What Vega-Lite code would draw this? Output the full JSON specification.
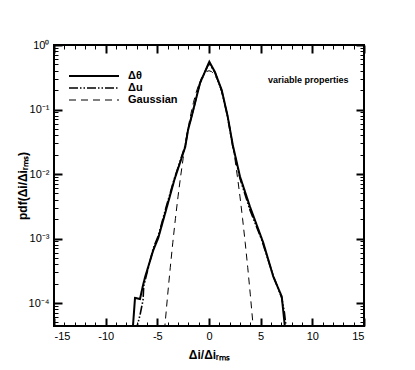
{
  "$schema": "https://vega.github.io/schema/vega-lite/v6.json",
  "width": 310,
  "height": 281,
  "autosize": {"type": "none"},
  "padding": {"left": 54, "top": 45, "right": 51, "bottom": 44},
  "background": "white",
  "config": {
    "view": {"stroke": "black", "strokeWidth": 2},
    "font": "Liberation Sans",
    "axis": {"grid": false, "domain": false, "tickColor": "black", "labelColor": "black", "titleColor": "black", "labelFont": "Liberation Sans", "titleFont": "Liberation Sans", "labelFontSize": 11}
  },
  "datasets": {
    "curves": [
      {"x": -7.40, "y": 3.55e-5, "series": "Δθ"},
      {"x": -7.16, "y": 1.20e-4, "series": "Δθ"},
      {"x": -6.68, "y": 1.15e-4, "series": "Δθ"},
      {"x": -6.42, "y": 1.78e-4, "series": "Δθ"},
      {"x": -6.19, "y": 2.51e-4, "series": "Δθ"},
      {"x": -5.39, "y": 6.61e-4, "series": "Δθ"},
      {"x": -4.91, "y": 1.02e-3, "series": "Δθ"},
      {"x": -4.16, "y": 2.75e-3, "series": "Δθ"},
      {"x": -3.35, "y": 8.13e-3, "series": "Δθ"},
      {"x": -2.30, "y": 0.0263, "series": "Δθ"},
      {"x": -2.03, "y": 0.0479, "series": "Δθ"},
      {"x": -1.645, "y": 0.0822, "series": "Δθ"},
      {"x": -0.87, "y": 0.257, "series": "Δθ"},
      {"x": 0.03, "y": 0.55, "series": "Δθ"},
      {"x": 0.58, "y": 0.38, "series": "Δθ"},
      {"x": 1.23, "y": 0.20, "series": "Δθ"},
      {"x": 1.80, "y": 0.0794, "series": "Δθ"},
      {"x": 2.30, "y": 0.0282, "series": "Δθ"},
      {"x": 3.00, "y": 9.12e-3, "series": "Δθ"},
      {"x": 3.97, "y": 3.09e-3, "series": "Δθ"},
      {"x": 5.10, "y": 1.0e-3, "series": "Δθ"},
      {"x": 5.26, "y": 8.51e-4, "series": "Δθ"},
      {"x": 6.22, "y": 2.57e-4, "series": "Δθ"},
      {"x": 7.04, "y": 1.26e-4, "series": "Δθ"},
      {"x": 7.40, "y": 3.55e-5, "series": "Δθ"},

      {"x": -7.10, "y": 3.55e-5, "series": "Δu"},
      {"x": -6.68, "y": 6.46e-5, "series": "Δu"},
      {"x": -6.38, "y": 1.12e-4, "series": "Δu"},
      {"x": -6.32, "y": 1.82e-4, "series": "Δu"},
      {"x": -5.90, "y": 3.39e-4, "series": "Δu"},
      {"x": -5.39, "y": 7.08e-4, "series": "Δu"},
      {"x": -4.91, "y": 1.10e-3, "series": "Δu"},
      {"x": -4.16, "y": 3.02e-3, "series": "Δu"},
      {"x": -3.35, "y": 8.51e-3, "series": "Δu"},
      {"x": -2.30, "y": 0.0275, "series": "Δu"},
      {"x": -2.03, "y": 0.049, "series": "Δu"},
      {"x": -1.645, "y": 0.0832, "series": "Δu"},
      {"x": -0.87, "y": 0.257, "series": "Δu"},
      {"x": 0.0, "y": 0.525, "series": "Δu"},
      {"x": 0.58, "y": 0.372, "series": "Δu"},
      {"x": 1.23, "y": 0.195, "series": "Δu"},
      {"x": 1.80, "y": 0.0776, "series": "Δu"},
      {"x": 2.30, "y": 0.0269, "series": "Δu"},
      {"x": 3.00, "y": 8.51e-3, "series": "Δu"},
      {"x": 3.97, "y": 2.75e-3, "series": "Δu"},
      {"x": 5.10, "y": 9.55e-4, "series": "Δu"},
      {"x": 6.22, "y": 2.63e-4, "series": "Δu"},
      {"x": 7.04, "y": 1.20e-4, "series": "Δu"},
      {"x": 7.30, "y": 7.08e-5, "series": "Δu"},
      {"x": 7.55, "y": 3.16e-5, "series": "Δu"},

      {"x": -4.5, "y": 1.598e-5, "series": "Gaussian"},
      {"x": -4.25, "y": 4.777e-5, "series": "Gaussian"},
      {"x": -4.0, "y": 1.3383e-4, "series": "Gaussian"},
      {"x": -3.75, "y": 3.526e-4, "series": "Gaussian"},
      {"x": -3.5, "y": 8.727e-4, "series": "Gaussian"},
      {"x": -3.25, "y": 0.002029, "series": "Gaussian"},
      {"x": -3.0, "y": 0.004432, "series": "Gaussian"},
      {"x": -2.75, "y": 0.009094, "series": "Gaussian"},
      {"x": -2.5, "y": 0.01753, "series": "Gaussian"},
      {"x": -2.25, "y": 0.03174, "series": "Gaussian"},
      {"x": -2.0, "y": 0.05399, "series": "Gaussian"},
      {"x": -1.75, "y": 0.08628, "series": "Gaussian"},
      {"x": -1.5, "y": 0.12952, "series": "Gaussian"},
      {"x": -1.25, "y": 0.18265, "series": "Gaussian"},
      {"x": -1.0, "y": 0.24197, "series": "Gaussian"},
      {"x": -0.75, "y": 0.30114, "series": "Gaussian"},
      {"x": -0.5, "y": 0.35207, "series": "Gaussian"},
      {"x": -0.25, "y": 0.38667, "series": "Gaussian"},
      {"x": 0.0, "y": 0.39894, "series": "Gaussian"},
      {"x": 0.25, "y": 0.38667, "series": "Gaussian"},
      {"x": 0.5, "y": 0.35207, "series": "Gaussian"},
      {"x": 0.75, "y": 0.30114, "series": "Gaussian"},
      {"x": 1.0, "y": 0.24197, "series": "Gaussian"},
      {"x": 1.25, "y": 0.18265, "series": "Gaussian"},
      {"x": 1.5, "y": 0.12952, "series": "Gaussian"},
      {"x": 1.75, "y": 0.08628, "series": "Gaussian"},
      {"x": 2.0, "y": 0.05399, "series": "Gaussian"},
      {"x": 2.25, "y": 0.03174, "series": "Gaussian"},
      {"x": 2.5, "y": 0.01753, "series": "Gaussian"},
      {"x": 2.75, "y": 0.009094, "series": "Gaussian"},
      {"x": 3.0, "y": 0.004432, "series": "Gaussian"},
      {"x": 3.25, "y": 0.002029, "series": "Gaussian"},
      {"x": 3.5, "y": 8.727e-4, "series": "Gaussian"},
      {"x": 3.75, "y": 3.526e-4, "series": "Gaussian"},
      {"x": 4.0, "y": 1.3383e-4, "series": "Gaussian"},
      {"x": 4.25, "y": 4.777e-5, "series": "Gaussian"},
      {"x": 4.5, "y": 1.598e-5, "series": "Gaussian"}
    ],
    "note": [
      {"x": 9.6, "y": 0.29, "label": "variable properties"}
    ]
  },
  "layer": [
    {
      "data": {"name": "curves"},
      "mark": {"type": "line", "clip": true, "color": "black"},
      "encoding": {
        "x": {
          "field": "x", "type": "quantitative",
          "scale": {"domain": [-15, 15], "nice": false, "zero": false},
          "axis": {
            "orient": "bottom",
            "values": [-15,-14,-13,-12,-11,-10,-9,-8,-7,-6,-5,-4,-3,-2,-1,0,1,2,3,4,5,6,7,8,9,10,11,12,13,14,15],
            "labelExpr": "datum.value % 5 == 0 ? toString(datum.value) : ''",
            "tickSize": {"condition": {"test": "datum.value % 5 == 0", "value": -8}, "value": -4},
            "tickWidth": {"condition": {"test": "datum.value % 5 == 0", "value": 2}, "value": 1},
            "labelPadding": 12,
            "labelFontSize": 11,
            "title": "Δi/Δiᵣₘₛ",
            "titleFontSize": 12,
            "titleFontWeight": "bold",
            "titlePadding": 8
          }
        },
        "y": {
          "field": "y", "type": "quantitative",
          "scale": {"type": "log", "domain": [4.4e-5, 1], "nice": false},
          "axis": {
            "orient": "left",
            "values": [5e-5,6e-5,7e-5,8e-5,9e-5,1e-4,2e-4,3e-4,4e-4,5e-4,6e-4,7e-4,8e-4,9e-4,1e-3,2e-3,3e-3,4e-3,5e-3,6e-3,7e-3,8e-3,9e-3,1e-2,2e-2,3e-2,4e-2,5e-2,6e-2,7e-2,8e-2,9e-2,0.1,0.2,0.3,0.4,0.5,0.6,0.7,0.8,0.9,1],
            "labelExpr": "abs(log(datum.value)/LN10 - round(log(datum.value)/LN10)) < 1e-6 ? '10' + (round(log(datum.value)/LN10) == 0 ? '⁰' : '⁻' + ['⁰','¹','²','³','⁴','⁵'][-round(log(datum.value)/LN10)]) : ''",
            "tickSize": {"condition": {"test": "abs(log(datum.value)/LN10 - round(log(datum.value)/LN10)) < 1e-6", "value": -8}, "value": -4},
            "tickWidth": {"condition": {"test": "abs(log(datum.value)/LN10 - round(log(datum.value)/LN10)) < 1e-6", "value": 2}, "value": 1},
            "labelPadding": 13,
            "labelFontSize": 11,
            "title": "pdf(Δi/Δiᵣₘₛ)",
            "titleFontSize": 12,
            "titleFontWeight": "bold",
            "titlePadding": -1
          }
        },
        "strokeDash": {
          "field": "series", "type": "nominal",
          "scale": {"domain": ["Δθ", "Δu", "Gaussian"], "range": [[1, 0], [9, 2, 1.5, 2, 1.5, 2], [7, 5]]},
          "legend": {
            "orient": "none", "legendX": 14, "legendY": 25,
            "title": null, "padding": 0,
            "symbolType": "stroke", "symbolSize": 2500, "symbolStrokeWidth": 1.8, "symbolStrokeColor": "black",
            "clipHeight": 12,
            "labelFont": "Liberation Sans", "labelFontSize": 11, "labelFontWeight": "bold", "labelColor": "black",
            "rowPadding": 0, "labelOffset": 8
          }
        },
        "strokeWidth": {
          "field": "series", "type": "nominal",
          "scale": {"type": "ordinal", "domain": ["Δθ", "Δu", "Gaussian"], "range": [2, 1.6, 1]},
          "legend": null
        }
      }
    },
    {
      "data": {"name": "note"},
      "mark": {"type": "text", "font": "Liberation Sans", "fontSize": 9, "fontWeight": "bold", "color": "black"},
      "encoding": {
        "x": {
          "field": "x", "type": "quantitative",
          "axis": {
            "orient": "top",
            "values": [-15,-14,-13,-12,-11,-10,-9,-8,-7,-6,-5,-4,-3,-2,-1,0,1,2,3,4,5,6,7,8,9,10,11,12,13,14,15],
            "labels": false, "title": null,
            "tickSize": {"condition": {"test": "datum.value % 5 == 0", "value": -8}, "value": -4},
            "tickWidth": {"condition": {"test": "datum.value % 5 == 0", "value": 2}, "value": 1}
          }
        },
        "y": {
          "field": "y", "type": "quantitative",
          "axis": {
            "orient": "right",
            "values": [5e-5,6e-5,7e-5,8e-5,9e-5,1e-4,2e-4,3e-4,4e-4,5e-4,6e-4,7e-4,8e-4,9e-4,1e-3,2e-3,3e-3,4e-3,5e-3,6e-3,7e-3,8e-3,9e-3,1e-2,2e-2,3e-2,4e-2,5e-2,6e-2,7e-2,8e-2,9e-2,0.1,0.2,0.3,0.4,0.5,0.6,0.7,0.8,0.9,1],
            "labels": false, "title": null,
            "tickSize": {"condition": {"test": "abs(log(datum.value)/LN10 - round(log(datum.value)/LN10)) < 1e-6", "value": -8}, "value": -4},
            "tickWidth": {"condition": {"test": "abs(log(datum.value)/LN10 - round(log(datum.value)/LN10)) < 1e-6", "value": 2}, "value": 1}
          }
        },
        "text": {"field": "label", "type": "nominal"}
      }
    }
  ],
  "resolve": {"axis": {"x": "independent", "y": "independent"}}
}
